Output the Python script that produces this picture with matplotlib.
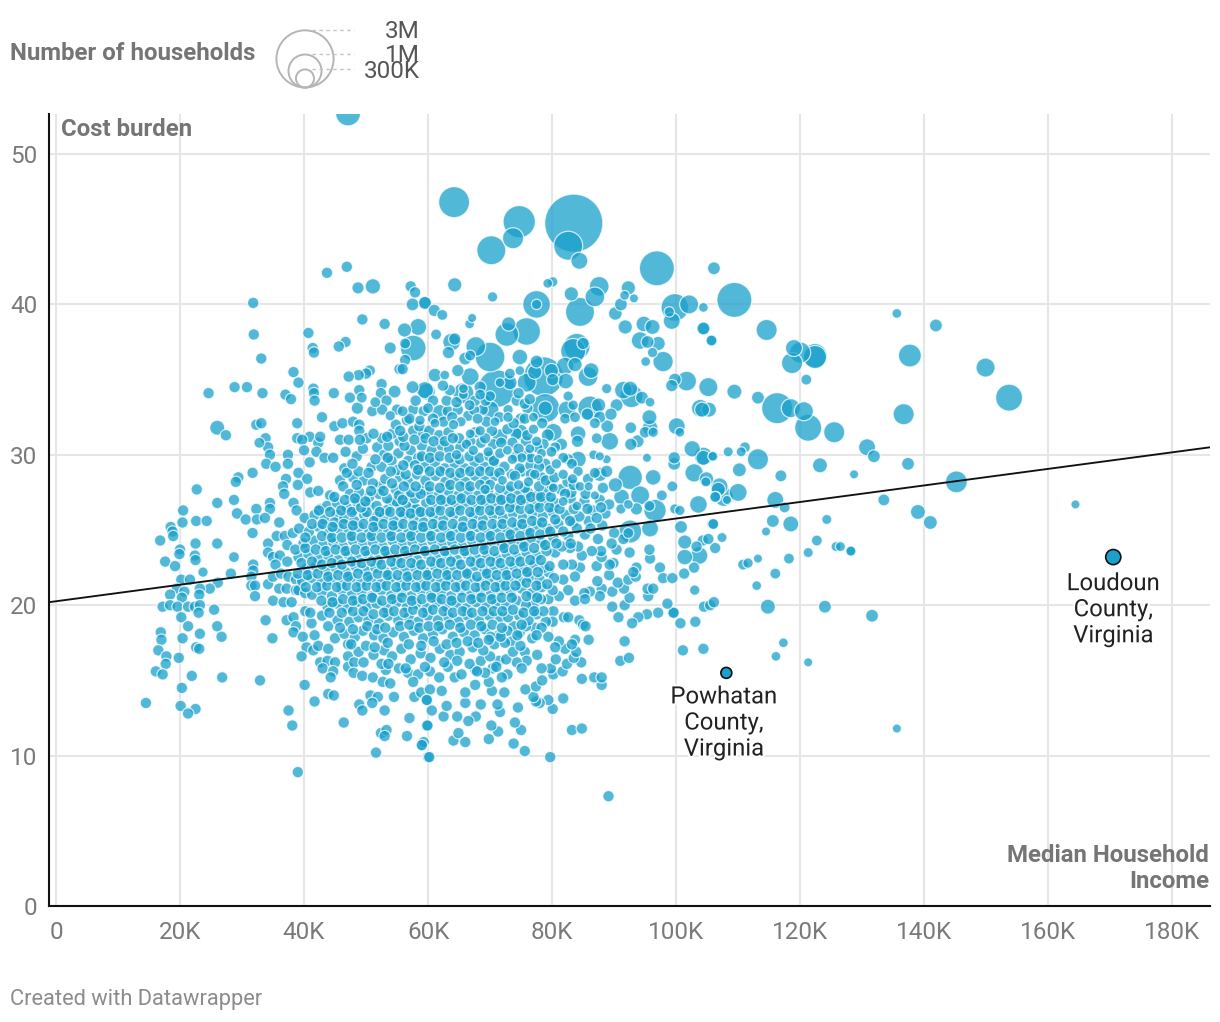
#!/usr/bin/env python
# coding: utf8
import numpy as np
import matplotlib
matplotlib.use('agg')
import matplotlib.pyplot as plt
from matplotlib.patches import Circle
import matplotlib.patheffects as pe

plt.rcParams['font.family'] = ['Roboto', 'DejaVu Sans']

# (median income in K, cost burden %, households in K)
big = [(47.1,52.7,530),(64.2,46.8,826),(74.7,45.5,900),(83.5,45.4,3000),(82.6,43.9,720),(73.7,44.4,370),
(70.2,43.6,720),(84.4,42.9,235),(96.9,42.4,1060),(109.4,40.3,1060),(106.1,42.4,130),(104.4,39.8,70),
(114.6,38.3,370),(104.5,38.4,130),(105.8,37.6,90),(119,37.1,235),(120,36.8,370),(122.4,36.6,490),
(122.4,36.5,450),(118.7,36.1,370),(121,35,90),(135.6,39.4,70),(141.9,38.6,130),(137.7,36.6,440),
(149.9,35.8,300),(153.7,33.8,620),(136.7,32.7,370),(105.2,34.5,300),(109.4,34.2,180),(113.2,33.8,130),
(116.3,33.1,830),(118.5,33.1,300),(120.6,32.9,300),(121.3,31.8,620),(125.5,31.5,370),(105.3,33,180),
(104.2,33,180),(130.8,30.5,235),(131.9,29.9,130),(137.4,29.4,130),(123.2,29.3,180),(113.2,29.7,370),
(110.2,29,155),(111.1,30.5,90),(110.5,30.2,75),(108.4,30.2,75),(106,29.9,75),(104.4,29.8,180),
(116.9,28.6,110),(128.7,28.7,60),(145.2,28.2,400),(110,27.5,265),(107,27.9,235),(104.8,28.2,75),
(107.7,27.2,300),(106.4,27.2,90),(108.2,27,60),(116,27,235),(117.5,26.5,90),(133.5,27,110),
(139,26.2,180),(141,25.5,155),(124.3,25.7,75),(115.6,25.6,130),(118.5,25.4,205),(114.5,24.9,60),
(106,25.4,90),(107.4,24.5,75),(122.7,24.3,90),(125.8,23.9,75),(126.5,23.9,75),(128.1,23.6,75),
(128.2,23.6,75),(121.3,23.5,75),(116,22.1,90),(114.8,19.9,180),(124,19.9,130),(131.6,19.3,130),
(117.3,17.5,70),(121.3,16.2,60),(116.1,16.6,70),(135.6,11.8,60),(164.4,26.7,60),(113,21.3,70),
(110.8,22.7,90),(111.6,22.8,80),(113.2,23.1,60),(118.2,23.1,90)]

upper = [(64.3,41.3,163),(70.4,40.5,80),(79.3,41.4,70),(80.1,41.5,80),(83.1,40.7,163),(77.5,40,650),
(77.5,40,80),(87.6,41.2,320),(86.9,40.5,320),(84.5,39.5,720),(92.3,41.1,163),(91.7,40.6,70),(93.2,40.4,60),
(91.1,40,130),(90.2,39.4,147),(91.8,38.5,163),(94.8,38.7,197),(96.2,38.5,180),(94.2,37.6,255),(95.4,37.5,130),
(97.1,37.4,163),(96.2,36.8,80),(95.1,36.2,70),(97.9,36.2,343),(99.8,39.8,650),(99.3,38.9,235),(98.9,39.5,80),
(102.1,40,297),(104.4,38.4,130),(105.7,37.6,90),(99.8,35,130),(99.3,34.6,118),(101.7,34.9,320),(88.8,34.4,80),
(92.6,34.4,180),(91.5,34.3,255),(92.8,33.9,444),(94.5,33.8,130),(95.8,33.5,70),(95.7,32.5,180),(95.8,31.8,197),
(95,31.5,105),(96.3,31.5,80),(92.7,31.8,105),(92.7,30.7,118),(93.8,30.9,130),(100.1,31.9,235),(100.6,31.5,70),
(95.3,29.8,60),(103.9,33.1,255),(99.7,29.8,118),(99.7,29.4,130),(102.6,30.4,216),(104.4,29.9,275),(105.9,29.9,70),
(102.9,28.8,275),(104.9,28.4,163),(99.4,27.9,90),(96.3,28.5,197),(92.6,28.5,500),(90.2,28,163),(91.2,27.2,197),
(94.2,27.3,297),(97.7,27.3,90),(103.6,26.7,255),(96.6,26.3,418),(95.7,26.6,90),(93.6,26.4,118),(92.3,26.7,70),
(91.1,26.4,80),(99.8,26.4,80),(100.6,26.3,80),(106.3,27.2,90),(106.8,27.7,163),(70,36.5,755),(67.7,37.2,320),
(74.8,36.5,197),(73,38.7,163),(72.7,38,472),(75.9,38.2,650),(67.1,39.1,60),(66.7,38.7,70),(61.3,38,90),
(63.8,37.5,255),(64.3,37.7,118),(63.3,36.8,118),(59.5,40.1,147),(61,39.6,118),(62.3,39.3,90),(78.6,35.2,1370),
(77.5,36.2,130),(74.8,35.6,70),(77.2,35.5,163),(79.9,35.6,163),(80.1,35,118),(82.1,35.9,255),(82.2,34.9,197),
(83.4,36.9,530),(84,37.2,590),(85,37.4,118),(83.7,36,163),(86.3,35.6,197),(85.8,35.2,320),(75.9,34.8,297),
(71.1,34.4,1230),(71.6,34.8,70),(73.2,35.4,90),(73.2,34.8,163),(66.8,36.6,90),(66,36.4,130),(64.8,35.6,118),
(62.7,35.3,70),(61.1,35.3,147),(59.8,34.2,235),(66.8,35.2,255),(65.7,34.1,367),(65.7,34,70),(68.4,34.5,118),
(70,33.9,90),(68.4,34,90),(66.7,33.3,90),(65.7,34.4,70),(78.9,33.1,720),(78.9,33.1,163),(82.6,33.9,80),
(83.4,33.3,80),(82.1,32.4,90),(82.4,33,255),(83.7,32.5,90),(86.1,33.1,500),(87.5,33.3,163),(85.7,32.7,118),
(86.9,32.1,90),(87.7,32.5,118),(89.5,32.7,118),(88.9,31.9,130),(87.2,31.1,90),(89.3,30.9,255),(90.4,33.3,130),
(84.2,31.4,197),(84.1,30.9,118),(86.7,30,70),(88.8,29.7,60),(87.7,29.9,60),(77,32.5,70),(79.3,31.3,130),
(80.2,31.5,255),(77,31.7,80),(77.5,30.9,80),(74.8,31.5,216),(74.2,31.4,118),(72.9,33,80),(72.9,32.5,80),
(70,33,255),(70.8,32.2,70),(68,32.4,90),(65.3,32.2,80),(66.8,31.4,70),(64.1,32,80),(61.9,32.8,216),(60,33.1,90),
(61.1,32.1,70),(58.7,32.3,80),(71.6,31.2,197),(70.3,31.6,105),(68.4,31.6,80),(81.5,30.7,118),(80.5,30.5,90),
(79.9,30.2,90),(81.8,29.8,90),(78.3,30.1,70),(76.4,30.4,70),(76.6,29.8,80),(84.2,29.7,216),(83.2,29.4,90),
(84.2,28.9,80),(81.8,28.7,80),(83.3,28.4,80),(79.7,29,80),(80.7,29.4,80),(77.8,29.7,70),(75.1,29.8,80),
(73.6,29.7,80),(86.9,28.8,90),(88.8,28.9,118),(87.7,28.7,163),(84.5,27.9,70),(85.9,27.9,60),(86.9,27.3,60),
(80.2,27.8,70),(81.8,26.9,70),(84,26.6,70),(77.2,28.7,80),(76.2,28.2,80),(74.6,28,80),(72,28.3,70),(69.2,27.7,80),
(66.2,30.7,80),(64.6,30,80),(67.3,30.3,80),(69.7,30.2,80),(71.6,30.1,90),(72.8,30.3,70),
(51.1,41.2,190),(48.7,41.1,115),(57.5,40,130),(59.5,40.1,130),(58.4,38.5,235),(56.2,38.3,160),(57.6,37.1,560),
(56.3,37.4,90),(53.9,37.1,115),(49.3,33.8,90),(54.6,34.2,130),(57.5,34.5,130),(59.5,34.3,235),(51.5,33.5,90),
(48.6,33.1,118),(53.9,32.6,80),(55.9,32.9,90),(26,31.8,180),(32.8,30.8,90),(29.2,26.1,105),(28.7,23.2,90),
(23.7,22.2,80),(101.4,24.2,160),(101.4,23.2,197),(103.7,23.3,255),(100.8,25.2,130),(95.8,25.1,235),
(92.6,24.9,444),(92.3,24.8,90),(103,21,80)]

# small counties, all about the same size
small_hh = 100
left_pts = [(46.9,42.5),(43.7,42.1),(57.2,41.2),(57.9,40.8),(31.8,40.1),(49.4,39),(53,38.7),(31.9,38),(40.7,38.1),
(46.7,37.5),(45.6,37.2),(41.4,37.1),(41.6,36.8),(33.1,36.4),(56.3,36.3),(55.4,35.7),(55.9,35.7),(50.6,35.6),(50,35.4),
(48.8,35.3),(47.2,35.2),(38.3,35.5),(39.1,34.8),(24.6,34.1),(28.8,34.5),(30.8,34.5),(33.3,34.1),(37,34),(37.9,33.7),
(41.5,34.4),(41.6,34.1),(41.7,33.6),(44.8,34.1),(48.9,34.3),(47.4,33.8),(52.5,34.7),(52.4,34.1),(53.3,33.6),(51,32.9),
(52.6,33),(57.6,33),(27.4,31.3),(42.9,32.5),(38.9,32.1),(32.3,32),(33.1,32.1),(33.8,31.1),(34.2,30.5),(34.5,30),
(44.9,31.9),(46.2,32.1),(47.9,32.2),(48.9,32),(48.9,31.6),(45.8,31),(47.2,31),(40.9,31.2),(38.9,31.1),(39.7,31),
(42.3,30.8),(42.6,31.2),(40,30.3),(42,30.2),(37.4,30),(37.4,29.4),(33.9,29.4),(35.4,29.2),(40.9,29.5),(39.1,28.8),
(43.3,29.8),(44.7,29.8),(37.1,28.4),(40.5,28.4),(31.7,28.8),(29.4,28.5),(29,28.2),(22.7,27.7),(28.7,27),(26,26.8),
(20.5,26.3),(32.3,26.4),(34.5,26.8),(34.5,26.4),(36.6,27.9),(36.8,27.4),(39,28),(41,27.5),(42.3,27.6),(38.3,26.8),
(38.8,26.3),(42.6,26.4),(45.8,28.3),(46.3,27.9),(44.2,27.3),(47.4,27.4),(49.6,28.3),(50.9,29.2),(48.5,29.9),(50.1,31.1),
(51.8,30.5),(52.6,31.1),(55.4,30.9),(52.9,30),(55.2,30.1),(57.2,30.3),(57.6,31.6),(59.2,31.4),(52.3,27.9),(53.1,28.4),
(55.5,28.5),(58.2,28.7),(54.1,29.6),(56.8,29.6),(58.4,29.8),(54.8,27.7),(59.1,27.7),(56.6,27.2),(53.9,26.8),(50.4,26.7),
(48,26.3),(45.3,26),(57.6,26.5),(55.5,26.6),(59.2,26.1),(51.7,25.9),(56,25.9),
(20.4,25.5),(22.6,25.6),(24.3,25.6),(18.5,25.2),(18.8,24.9),(18.9,24.6),(30.6,25.7),(32.4,25.7),(33.7,25.8),(36,25.5),
(31.7,24.8),(16.8,24.3),(22.5,24.1),(26,24.1),(20,23.7),(19.9,23.4),(22.4,23.3),(22.5,23),(17.6,22.9),(19.2,22.6),
(28.2,22.1),(20.2,21.7),(21.6,21.7),(19.5,21.1),(26.1,21.5),(24.8,21.1),(23.2,21.1),(20.7,20.9),(18.4,20.7),(20.3,20.5),
(23.1,20.7),(17.2,19.9),(18.4,20),(19.6,19.9),(21.3,19.9),(22.4,19.9),(23.2,20),(23,19.5),(25.5,19.7),(20.2,19.2),
(21.3,18.6),(26,18.6),(26.7,17.9),(23.2,18.1),(20.4,17.8),(16.9,18.2),(17,17.7),(16.5,17),(17.8,16.6),(17.7,16.1),
(19.8,16.5),(22.6,17.2),(23.1,17.1),(16.1,15.6),(17.2,15.4),(21.9,15.3),(26.8,15.2),(32.9,15),(20.3,14.5),(14.5,13.5),
(20.1,13.3),(22.5,13.1),(21.3,12.8),(33.8,19),(34.9,17.8),(37.2,19),(38.3,19.2),(38.7,18.6),(38.3,18.2),(41.2,18.8),
(39.8,17.9),(41.7,18),(40.4,17.2),(41.5,17),(42.3,17.3),(39.6,16.6),(43.9,18.6),(45,17.8),(43.9,17.1),(47.1,17.4),
(47.1,16.6),(42.6,16.2),(43.8,16.3),(45,16.2),(43,15.8),(44.7,15.6),(44.3,15.2),(47.1,15.9),(48.1,16.2),(48,15.5),
(49.4,15.3),(51.1,15.2),(53.2,15.7),(52.5,16.1),(51.2,16.7),(55.3,15.8),(56.8,15.5),(58.4,15.4),(52.7,14.9),(53.9,14.8),
(57.6,14.9),(40.1,14.7),(41.7,13.6),(43.9,14.1),(44.8,14),(37.5,13),(38.1,12),(39,8.9),(46.4,12.2),(48.9,13.4),(49.4,13),
(50.7,14),(51.9,13.9),(51,13.5),(54.5,13.9),(53,13),(57,12.5),(57.8,13.9),(58.9,14.2),(59.8,13.7),(59.8,12),(52.4,11.5),
(53.3,11.7),(53,11.3),(56.6,11.3),(59,10.7),(59.3,10.9),(51.6,10.2),(60,9.9),
(34.2,24.1),(34.2,23.5),(35.6,24.6),(36.9,24.6),(38.2,24.8),(37.3,24),(35,23.2),(36.1,23.3),(35.4,22.7),(37.3,22.9),
(31.8,22.7),(31.8,22.3),(31.5,21.9),(31.5,21.3),(32.1,21.3),(32.1,20.6),(34.2,21.4),(35,21.9),(36,21.1),(36.3,22.1),
(37.5,21.9),(38.7,21.7),(37.2,21.1),(38.7,21),(35,20.3),(36.7,20.2),(38,20.2),(39.1,21),(40.2,19.6),(41,19.5),(42.9,19.3),
(40.2,20.8)]

right_pts = [(89.1,7.3),(79.7,9.9),(60.2,9.9),(75.6,10.3),(73.8,10.8),(69.8,11.1),(66,10.9),(64.1,11),(71.3,11.6),
(75,11.7),(74,12.2),(70.2,12),(64.9,11.5),(59.9,12),(59,10.7),(83.2,11.7),(84.8,11.8),(80.1,13.1),(81.8,13.8),(79.4,13.7),
(78,13.5),(77.4,13.6),(77,13.9),(74.5,13.2),(71.6,12.9),(67.7,12.6),(66.5,12.3),(64.7,12.6),(62.5,12.6),(60.6,13),(63,13.3),
(66,13.5),(68.5,13.4),(71.2,13.4),(72.3,14.2),(70.3,14.3),(67.6,14.7),(69.8,14.9),(75.7,14.4),(77.4,14.6),(78.4,15),(88,14.7),
(86.8,15.2),(88,15.2),(84.8,15.1),(80.2,15.4),(79.8,15.8),(81.7,15.6),(78.3,15.8),(82.4,16.1),(80.6,16.4),(84.7,16.2),
(83.5,16.5),(83.9,16.9),(91,16.3),(92.4,16.5),(91.7,17.6),(85.9,17.7),(83.7,17.7),(82.1,17.1),(83.2,17.4),(81.1,17.6),
(79.4,17.9),(80.5,17.2),(77.6,16.7),(75.6,16.9),(75.9,16.3),(74.3,16.2),(75.1,15.8),(72.8,15.4),(71.9,15.2),(71.4,16.3),
(70.4,15.8),(67.6,15.7),(69.2,15.5),(64.3,15.2),(62.2,14.3),(60.3,14.4),(59.8,13.7),(66,14.2),(101.1,17),(104.4,17.1),
(103.1,18.9),(100.7,18.8),(99.5,19.5),(99.6,19.5),(97.1,19.5),(95.3,19.4),(93.9,19.2),(92.9,18.8),(90.7,19.2),(98.6,20.1),
(104.5,19.9),(105.5,20),(106.1,20.2),(91.7,20),(89.7,19.9),(92.5,20.5),(89.7,20.9),(88,21.1),(87.7,20.6),(86.1,20.9),
(85.2,20.8),(83.7,20.3),(85.3,20.4),(95.5,20.6),(95.4,21.1),(96.3,21.1),(91.6,21.1),(90.6,21.5),(87.3,21.6),(89.2,22),
(92.3,21.7),(93.5,21.9),(93.6,22.5),(93.1,22.2),(89.9,22.8),(89.3,22.7),(87.2,22.6),(84.5,22.5),(83.7,21.9),(97.4,22.5),
(97.9,21.8),(99.4,21.8),(101.3,22.1),(102.9,22.5),(95.8,23.1),(95.7,23.7),(92.5,23.5),(90.4,23.7),(88,23.2),(87.9,23.6),
(86.4,23.6),(84.8,23.3),(84.2,23.9),(82.9,23.8),(83.2,22.7),(81.8,22.7),(81.8,21.7),(82.6,21),(81.1,20.6),(79.4,20.4),
(79.4,22.2),(80.5,23.5),(104.3,24.3),(106.3,23.8),(105.2,24.4),(105.9,25.4),(103.3,23.9),(91.5,24.4),(90,24.8),(89.6,24.1),
(81.9,19.2),(82.6,19.2),(84.4,19),(85,18.7),(85.4,18.6),(80.2,19.6),(80.1,18.9),(79,18.9),(77,20),(77.5,19.4),(77.2,18.5),
(74.8,18.2),(73.8,18.6),(73.5,17.6),(76.8,17.8),(71.4,18),(71.6,19.2)]

# the dense middle of the cloud, row by row
core_pts = [(60.3,15.6),(61.8,15.2),(63.2,15.9),(65.4,15.4),(66.7,16.1),(68.5,16.3),(70,16.6),(72.6,16.4),(73.7,16.9),
(48.8,16.9),(50,17.3),(52.9,17),(54.2,16.6),(55.7,17.1),(57.2,16.4),(58.8,16.8),(60.4,16.5),(61.9,17.1),(63.6,16.7),(65.1,16.9),(67.2,17.2),(68.9,17),(70.7,17.4),(72.4,17.5),(74.9,17.3),
(46.5,18.1),(48.2,17.9),(49.5,18.3),(51.3,18),(52.8,17.8),(54.4,18.2),(56.1,17.9),(57.7,18.3),(59.2,17.8),(60.8,18.1),(62.3,18.4),(64,17.9),(65.8,18.2),(67.5,18),(69.2,18.4),(70.1,17.9),(72.8,18.3),(75.8,18.6),(78.3,18.5),
(45.4,19),(47.3,18.9),(48.8,19.2),(50.4,19),(52.1,18.8),(53.6,19.3),(55.2,19),(56.9,19.2),(58.4,18.9),(60,19.3),(61.6,19),(63.3,19.2),(64.9,18.9),(66.4,19.3),(68.2,19),(69.9,19.3),(72.9,19.2),(74.7,19.3),(76.2,19),(78.6,19.6),
(43.8,19.9),(45.4,20.1),(47,19.8),(48.6,20.2),(50.2,19.9),(51.7,20.1),(53.4,19.8),(55,20.2),(56.6,19.9),(58.1,20.1),(59.8,19.8),(61.4,20.2),(63,19.9),(64.6,20.1),(66.2,19.8),(67.8,20.2),(69.4,19.9),(71,20.1),(72.6,20),(74.3,20.3),(75.8,20),(78.2,20.4),
(41.3,20.7),(42.9,20.9),(44.5,20.6),(46.1,21),(47.7,20.7),(49.3,20.9),(50.9,20.6),(52.5,21),(54.1,20.7),(55.7,20.9),(57.3,20.6),(58.9,21),(60.5,20.7),(62.1,20.9),(63.7,20.6),(65.3,21),(66.9,20.7),(68.5,20.9),(70.1,20.7),(71.7,21),(73.3,20.9),(75.1,21.1),(76.7,20.8),(78.3,21.2),(80.1,21),
(39.7,21.6),(41.2,21.8),(42.8,21.5),(44.4,21.7),(46,21.4),(47.6,21.8),(49.2,21.5),(50.8,21.7),(52.4,21.4),(54,21.8),(55.6,21.5),(57.2,21.7),(58.8,21.4),(60.4,21.8),(62,21.5),(63.6,21.7),(65.2,21.4),(66.8,21.8),(68.4,21.5),(70,21.7),(71.6,21.5),(73.2,21.8),(74.8,21.6),(76.4,21.9),(78,21.7),(80.3,21.8),
(40.3,22.4),(41.9,22.6),(43.5,22.3),(45.1,22.5),(46.7,22.2),(48.3,22.6),(49.9,22.3),(51.5,22.5),(53.1,22.2),(54.7,22.6),(56.3,22.3),(57.9,22.5),(59.5,22.2),(61.1,22.6),(62.7,22.3),(64.3,22.5),(65.9,22.2),(67.5,22.6),(69.1,22.3),(70.7,22.5),(72.3,22.3),(73.9,22.6),(75.5,22.4),(77.1,22.7),(78.7,22.5),
(39.1,23.2),(40.7,23.4),(42.3,23.1),(43.9,23.3),(45.5,23),(47.1,23.4),(48.7,23.1),(50.3,23.3),(51.9,23),(53.5,23.4),(55.1,23.1),(56.7,23.3),(58.3,23),(59.9,23.4),(61.5,23.1),(63.1,23.3),(64.7,23),(66.3,23.4),(67.9,23.1),(69.5,23.3),(71.1,23.1),(72.7,23.4),(74.3,23.2),(75.9,23.5),(77.5,23.3),(79.1,23.6),(81.6,23.9),
(39.9,24.1),(41.5,24.3),(43.1,24),(44.7,24.2),(46.3,23.9),(47.9,24.3),(49.5,24),(51.1,24.2),(52.7,23.9),(54.3,24.3),(55.9,24),(57.5,24.2),(59.1,23.9),(60.7,24.3),(62.3,24),(63.9,24.2),(65.5,23.9),(67.1,24.3),(68.7,24),(70.3,24.2),(71.9,24),(73.5,24.3),(75.1,24.1),(76.7,24.4),(78.3,24.2),(80.2,24.5),(82.6,24.6),(85.3,24.7),(87.4,24.4),
(39.2,25.1),(40.8,24.9),(42.4,25.2),(44,24.8),(45.6,25.1),(47.2,24.9),(48.8,25.2),(50.4,24.8),(52,25.1),(53.6,24.9),(55.2,25.2),(56.8,24.8),(58.4,25.1),(60,24.9),(61.6,25.2),(63.2,24.8),(64.8,25.1),(66.4,24.9),(68,25.2),(69.6,24.8),(71.2,25.1),(72.8,24.9),(74.4,25.2),(76,25),(77.6,25.3),(79.2,25.1),(81,25.4),(83.4,25.5),(85.9,25.6),(88.1,25.3),
(40.1,25.8),(41.7,26),(43.3,25.7),(44.9,25.5),(46.5,25.8),(48.1,25.6),(49.7,26),(51.3,25.6),(52.9,25.9),(54.5,25.6),(56.1,26),(57.7,25.7),(59.3,25.5),(60.9,25.9),(62.5,25.7),(64.1,26),(65.7,25.6),(67.3,25.9),(68.9,25.7),(70.5,26),(72.1,25.8),(73.7,26.1),(75.3,25.8),(76.9,26.1),(78.5,25.9),(80.1,26.2),(82.2,26),(84.4,25.9),(86.5,26.3),(88.6,26.1),
(43.7,26.6),(45.3,26.8),(46.9,26.5),(48.5,26.9),(50.1,26.2),(51.7,26.6),(53.3,26.3),(54.9,26.9),(56.5,26.6),(58.1,26.4),(59.7,26.8),(61.3,26.5),(62.9,26.9),(64.5,26.6),(66.1,26.8),(67.7,26.5),(69.3,26.8),(70.9,26.6),(72.5,26.9),(74.1,26.7),(75.7,27),(77.3,26.7),(78.9,27),(80.5,26.8),(83,27.1),(85.2,26.9),(87.7,27),(89.2,26.7),
(48.9,27.5),(50.5,27.2),(52.1,27.4),(55.3,27.3),(57.9,27.1),(60.1,27.5),(61.7,27.3),(63.3,27.6),(64.9,27.3),(66.5,27.6),(68.1,27.3),(69.7,27.5),(71.3,27.2),(72.9,27.6),(74.5,27.3),(76.1,27.5),(77.7,27.3),(79.3,27.6),(81.4,27.7),(83.1,27.5),(88.2,27.8),
(47.9,28.5),(51.1,28.1),(56.8,28.2),(59.6,28.3),(61.2,28.6),(62.8,28.2),(64.4,28.5),(66,28.2),(67.6,28.6),(69.2,28.3),(70.8,28.6),(73.5,28.7),(75.2,28.9),(78.3,28.5),(79.9,28),(82.5,28.2),(85.8,28.4),
(46.5,29.1),(48.8,28.9),(52.5,29.2),(55.1,29),(57.9,29.3),(59.5,29.2),(61.1,29.5),(62.7,29.1),(64.3,29.4),(65.9,29.1),(67.5,29.5),(69.1,29.2),(70.7,29.5),(72.3,29.2),(74.8,29.1),(76.5,29.3),(78.9,29.4),(82.6,29.7),
(46.7,30.2),(49.5,30.4),(53.6,30.6),(56.2,30.6),(59,30.6),(60.6,30.3),(62.2,30.6),(63.4,30.4),(65.2,30.5),(68.5,30.8),(70.5,30.7),(73.6,30.8),(75.8,30.9),(78.6,30.7),
(54.2,31.4),(56,31.2),(58.6,31.9),(60.2,31.6),(61.8,31.3),(63.3,31.5),(65,31.1),(67.6,31.5),(69.2,31.1),(72.8,31.7),(76,31.3),(78.4,32.1),(54.8,32),(56.6,32.3),(59.3,32.9),(63.2,32.9),(64.8,33),(68.8,33),(74.9,32.4),(76,33.1)]

# second layer of the same cloud, the dots lying between the rows above
core2_pts = [(49.6,16.2),(53.6,16.1),(56.4,15.8),(59.5,15.9),(62.6,16.2),(64.7,16.3),(67.9,15.6),(71,15.9),
(47.6,17.4),(51.4,17.2),(53.5,17.5),(56.9,17.4),(58.9,17.3),(60.9,17.6),(63,17.4),(64.6,17.5),(66.4,17.6),(68.1,17.5),(69.8,17.7),(71.7,17.9),(74.4,18),(77.5,18),
(45.8,18.5),(47.9,18.4),(50.2,18.6),(51.8,18.4),(53.1,18.5),(55.5,18.6),(57,18.7),(58.6,18.5),(60.1,18.6),(61.7,18.6),(63.5,18.7),(65.2,18.5),(66.9,18.7),(68.6,18.6),(70.4,18.7),(71.9,18.5),(75.1,18.7),
(44.1,19.5),(46.1,19.5),(47.9,19.6),(49.6,19.6),(51.2,19.4),(52.9,19.5),(54.5,19.6),(56.2,19.5),(57.6,19.7),(59.2,19.5),(60.8,19.7),(62.5,19.6),(64,19.5),(65.6,19.6),(67.1,19.5),(68.8,19.6),(70.6,19.6),(72,19.6),(73.7,19.7),(75.4,19.5),(77.1,19.6),
(42.8,20.3),(44.6,20.2),(46.3,20.4),(47.9,20.3),(49.5,20.4),(51,20.5),(52.6,20.3),(54.2,20.4),(55.8,20.5),(57.4,20.3),(59,20.4),(60.6,20.5),(62.2,20.4),(63.8,20.3),(65.5,20.5),(67,20.4),(68.6,20.5),(70.3,20.4),(71.9,20.5),(73.5,20.5),(75.9,20.6),(77.6,20.5),
(40.3,21.2),(42.1,21.2),(43.7,21.3),(45.3,21.2),(46.9,21.3),(48.5,21.2),(50.1,21.3),(51.7,21.2),(53.3,21.3),(54.9,21.2),(56.5,21.3),(58.1,21.2),(59.7,21.3),(61.3,21.2),(62.9,21.3),(64.5,21.2),(66.1,21.3),(67.7,21.2),(69.3,21.3),(70.9,21.2),(72.5,21.3),(74.1,21.3),(75.9,21.5),(77.5,21.3),(79.2,21.4),
(39,22.1),(40.6,22),(42.2,22.1),(43.9,21.9),(45.5,22),(47.1,21.9),(48.7,22.1),(50.3,21.9),(51.9,22.1),(53.5,22),(55.1,22),(56.7,21.9),(58.3,22),(59.9,22),(61.5,22.1),(63.1,22),(64.7,22),(66.3,22.1),(67.9,21.9),(69.5,22.1),(71.1,22),(72.7,22),(74.3,22.1),(76,22.2),(77.7,22.2),(79.6,22.6),
(39.6,22.8),(41.3,22.9),(42.9,22.7),(44.5,22.8),(46.1,22.7),(47.7,22.9),(49.3,22.8),(50.9,22.9),(52.5,22.7),(54.1,22.9),(55.7,22.8),(57.3,22.8),(58.9,22.7),(60.5,22.9),(62.1,22.8),(63.7,22.9),(65.3,22.7),(66.9,22.9),(68.5,22.8),(70.1,22.9),(71.7,22.8),(73.3,22.9),(74.9,22.9),(76.5,23),(78.2,23),
(38.6,23.7),(40.2,23.8),(41.9,23.7),(43.5,23.6),(45.1,23.7),(46.7,23.6),(48.3,23.7),(49.9,23.6),(51.5,23.7),(53.1,23.6),(54.7,23.7),(56.3,23.6),(57.9,23.7),(59.5,23.6),(61.1,23.7),(62.7,23.6),(64.3,23.7),(65.9,23.6),(67.5,23.7),(69.1,23.7),(70.7,23.6),(72.3,23.8),(73.9,23.7),(75.5,23.9),(77.1,23.8),(78.9,24),(80.7,24.1),(83,24.1),
(40.2,24.5),(42.9,24.6),(44.5,24.5),(46.1,24.5),(47.7,24.6),(49.3,24.5),(50.9,24.6),(52.5,24.5),(54.1,24.6),(55.7,24.5),(57.3,24.6),(58.9,24.5),(60.5,24.6),(62.1,24.5),(63.7,24.6),(65.3,24.5),(66.9,24.6),(68.5,24.5),(70.1,24.6),(71.7,24.5),(73.3,24.7),(74.9,24.6),(76.5,24.8),(78.1,24.7),(79.7,24.9),(81.8,24.9),(84,25.1),(86.2,25.1),
(41.3,25.4),(43,25.4),(44.6,25.2),(46.4,25.4),(47.9,25.3),(49.6,25.4),(51.2,25.2),(52.8,25.4),(54.4,25.3),(56,25.4),(57.6,25.3),(59.2,25.2),(60.8,25.4),(62.4,25.3),(64,25.4),(65.6,25.2),(67.2,25.4),(68.8,25.3),(70.4,25.4),(72,25.4),(73.6,25.5),(75.2,25.4),(76.8,25.6),(78.4,25.5),(80.5,25.7),(82.9,25.6),(87.2,25.8),
(42.4,26.3),(44.2,26.2),(46,26.3),(47.7,26.2),(49.2,26.5),(52.2,26.2),(53.9,26.2),(55.6,26.2),(57.2,26.1),(58.8,26.2),(60.4,26.2),(62,26.3),(63.6,26.2),(65.2,26.3),(66.8,26.2),(68.4,26.3),(70,26.3),(71.6,26.3),(73.2,26.5),(74.9,26.4),(76.4,26.4),(78,26.5),(79.6,26.5),(81.2,26.4),(83.5,26.4),(85.7,26.4),(87.9,26.5),
(44.9,27.2),(46.6,27),(48.2,27.1),(49.9,26.9),(53.4,27.1),(55.9,27),(57.3,27.5),(58.8,27.4),(60.5,27),(62.1,27),(63.8,27),(65.4,27.1),(67,27),(68.6,27),(70.2,27.1),(71.8,27),(73.4,27.1),(75,27),(76.6,27.2),(78.2,27.2),(79.8,27.2),(82.1,27.4),(85.4,27.4),
(48.5,28),(50.8,27.6),(52.8,27.6),(54.2,28.1),(56.1,27.9),(58,27.9),(60.3,27.9),(61.9,27.8),(63.6,28),(65.2,27.9),(66.8,27.9),(68.4,28),(70,28),(71.6,27.8),(73.4,27.9),(75.6,27.8),(77.9,27.9),(79,28.3),(83.5,28),
(46.9,28.8),(50.4,28.8),(54,28.9),(56.4,28.7),(58.4,29),(60.3,28.9),(62,28.9),(63.6,28.8),(65.2,28.8),(66.8,28.9),(68.4,28.9),(70,28.9),(71.5,28.8),(74,28.6),(76.6,28.7),(77.9,29.2),(80.4,28.5),
(47.8,29.4),(51.5,29.7),(53.5,29.8),(56,29.3),(59,29.9),(60.3,29.8),(61.9,29.9),(63.5,29.8),(65.1,29.7),(66.7,29.9),(68.3,29.8),(69.9,29.9),(70.6,29.6),(74.2,29.9),(76,30),
(49,31),(51.2,31.4),(53.4,31.2),(55.5,31.6),(57.8,31),(59.6,31.1),(60.9,30.9),(62.7,30.9),(64,31.1),(66.8,30.9),(71.8,30.8),(74.6,30.4),(77.6,30.5),
(55,33),(57,32.4),(60.8,32.4),(62.5,32.2),(63.9,32.5),(66.5,32.6),(67.4,33),(69.4,32.2),(71.5,32.5),(73.8,32.1),(75.6,32.4),
(58,33.6),(60.8,33.6),(63,33.6),(64.6,33.5),(67.6,33.6),(69.3,33.6),(74.3,33.6),(75.6,33.4),(63.5,34.3),(62.4,34.6),(74.6,34.1),(76.4,33.7)]

# the two named counties
labelled = [(170.5,23.2,210),(108.1,15.5,110)]

# x: K, y: %
xticks = [0,20,40,60,80,100,120,140,160,180]
xticklabels = ['0','20K','40K','60K','80K','100K','120K','140K','160K','180K']
yticks = [0,10,20,30,40,50]
trend_x = [-1.13,186.1]
trend_y = [20.2,30.5]
legend_hh = [3000,1000,300]
legend_labels = ['3M','1M','300K']

W, H = 1220, 1022
PX_PER_KHH = 16.5/np.sqrt(1000)

def size(hh, extra=0.0):
    # area of a marker in pt^2 from households
    r = PX_PER_KHH*np.sqrt(np.asarray(hh, dtype=float)) + extra
    return (2*r*72./100.)**2

fig = plt.figure(figsize=(W/100., H/100.), dpi=100)
ax = fig.add_axes([49./W, 1-906./H, (1210-49.)/W, (906-114.)/H])
ax.set_xlim(-1.13, 186.1)
ax.set_ylim(0, 52.66)

bub = np.array(big+upper, dtype=float)
pts = np.array(left_pts+right_pts+core_pts+core2_pts, dtype=float)
x = np.concatenate([bub[:,0], pts[:,0]])
y = np.concatenate([bub[:,1], pts[:,1]])
hh = np.concatenate([bub[:,2], np.full(len(pts), small_hh)])
order = np.argsort(-hh, kind='stable')
ax.scatter(x[order], y[order], s=size(hh[order], 0.5), facecolor=(0.094,0.627,0.80,0.75),
           edgecolor=(1,1,1,0.75), linewidth=0.9, zorder=3)

lab = np.array(labelled)
ax.scatter(lab[:,0], lab[:,1], s=size(lab[:,2]), facecolor='#1d9fcb', edgecolor='#111111',
           linewidth=1.2, zorder=5)
ax.plot(trend_x, trend_y, color='#111111', lw=1.35, zorder=4)

halo = [pe.withStroke(linewidth=3, foreground='white')]
ax.text(170.5, 19.7, 'Loudoun\nCounty,\nVirginia', ha='center', va='center', fontsize=17.2,
        color='#222222', linespacing=1.17, zorder=6, path_effects=halo)
ax.text(107.7, 12.17, 'Powhatan\nCounty,\nVirginia', ha='center', va='center', fontsize=17.2,
        color='#222222', linespacing=1.17, zorder=6, path_effects=halo)

ax.set_xticks(xticks)
ax.set_xticklabels(xticklabels)
ax.set_yticks(yticks)
ax.grid(True, color='#e6e6e6', lw=1.5, zorder=0)
ax.set_axisbelow(True)
ax.tick_params(length=0, labelsize=17.5, labelcolor='#7a7a7a')
ax.tick_params(axis='x', pad=10.5)
ax.tick_params(axis='y', pad=8.5)
ax.spines['top'].set_visible(False)
ax.spines['right'].set_visible(False)
ax.spines['left'].set_linewidth(1.5)
ax.spines['bottom'].set_linewidth(1.5)
ax.spines['left'].set_color('#111111')
ax.spines['bottom'].set_color('#111111')
ax.spines['left'].set_zorder(6)
ax.spines['bottom'].set_zorder(6)

# overlay in pixels for legend and titles
ov = fig.add_axes([0, 0, 1, 1], facecolor='none')
ov.set_xlim(0, W)
ov.set_ylim(H, 0)
ov.axis('off')
for h, name, ytext in zip(legend_hh, legend_labels, [31.5, 56, 71]):
    r = PX_PER_KHH*np.sqrt(h)
    ov.add_patch(Circle((305, 87.5-r), r, fill=False, ec='#b5b5b5', lw=1.4))
    ytop = 87.5-2*r
    ov.plot([312, 354], [ytop, ytop], color='#c4c4c4', lw=1, ls=(0, (2.5, 2.5)))
    ov.text(420, ytext, name, ha='right', va='center', fontsize=17.5, color='#555555')

grey = '#757575'
ov.text(10, 53.5, 'Number of households', fontsize=17.3, fontweight='bold', color=grey, va='center')
ov.text(61, 129.5, 'Cost burden', fontsize=17.3, fontweight='bold', color=grey, va='center')
ov.text(1209, 868.5, 'Median Household\nIncome', fontsize=17.3, fontweight='bold', color=grey,
        ha='right', va='center', linespacing=1.18)
ov.text(10, 999.5, 'Created with Datawrapper', fontsize=15.75, color='#8c8c8c', va='center')

fig.savefig('out.png', dpi=100)
